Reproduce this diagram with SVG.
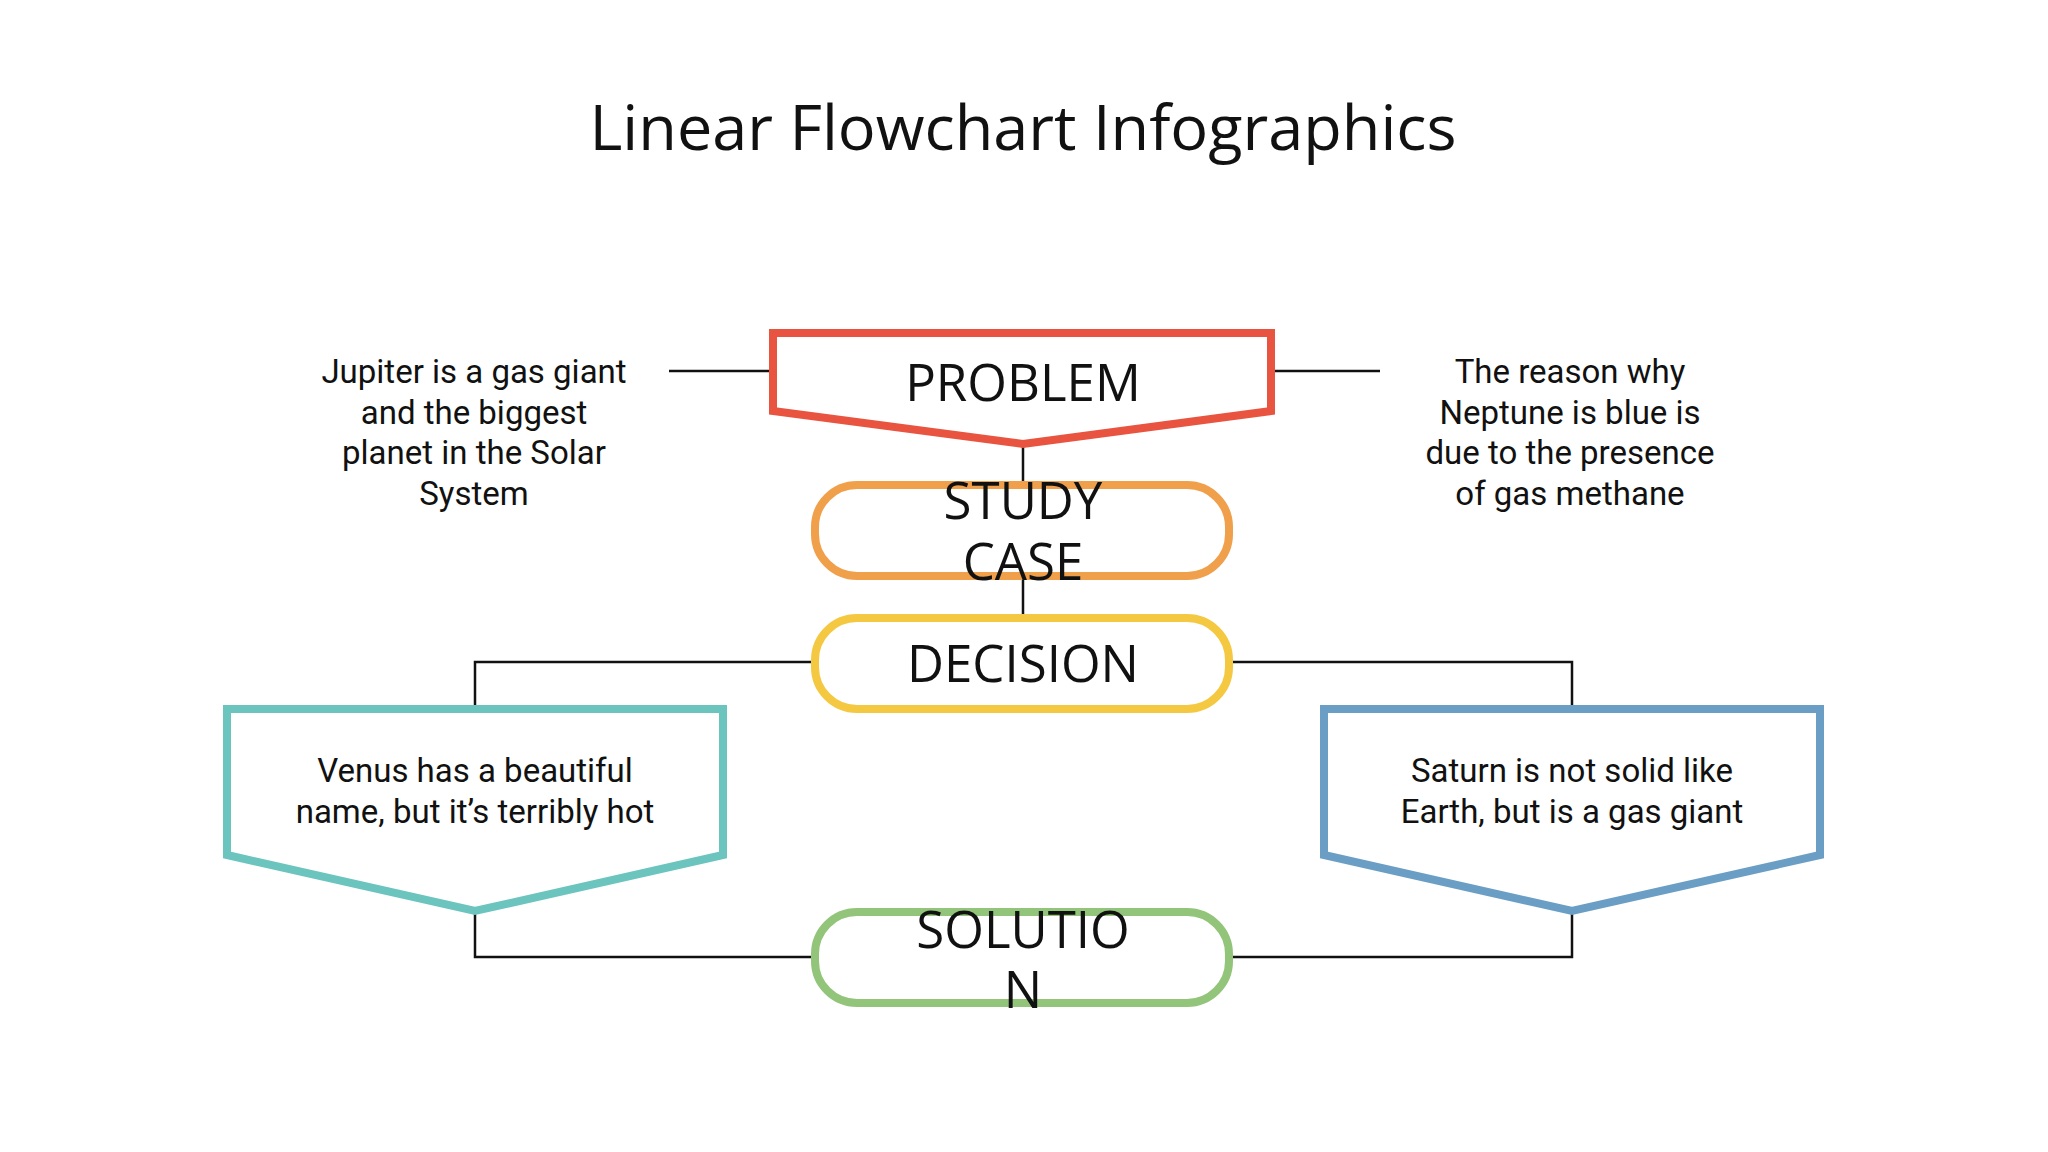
<svg xmlns="http://www.w3.org/2000/svg" width="2048" height="1152" viewBox="0 0 2048 1152">
<style>
.t{font-family:"Open Sans","Noto Sans",sans-serif;fill:#111;text-anchor:middle}
.lab{font-size:51px}
.d{font-family:Roboto,"Liberation Sans",sans-serif;font-size:33px;fill:#111;text-anchor:middle}
.c{stroke:#111;stroke-width:2.5;fill:none}
.s{fill:#fff;stroke-width:8;stroke-linejoin:miter}
</style>
<rect width="2048" height="1152" fill="#fff"/>
<text class="t" x="1023" y="150" font-size="63">Linear Flowchart Infographics</text>
<g id="connectors">
<path class="c" d="M669 371H773M1271 371H1380M1023 444V485M1023 576V616M815 662H475V709M1229 662H1572V709M475 911V957H815M1572 911V957H1229"/>
</g>
<g id="problem">
<path class="s" stroke="#e8543f" d="M773 333H1271V411L1023 444L773 411Z"/>
<text class="t lab" x="1023" y="401">PROBLEM</text>
</g>
<g id="study">
<rect class="s" stroke="#f0a04b" x="815" y="485" width="414" height="91" rx="42"/>
<text class="t lab" x="1023" y="519">STUDY</text>
<text class="t lab" x="1023" y="580">CASE</text>
</g>
<g id="decision">
<rect class="s" stroke="#f5c842" x="815" y="618" width="414" height="91" rx="42"/>
<text class="t lab" x="1023" y="682">DECISION</text>
</g>
<g id="solution">
<rect class="s" stroke="#92c47a" x="815" y="912" width="414" height="91" rx="42"/>
<text class="t lab" x="1023" y="948">SOLUTIO</text>
<text class="t lab" x="1023" y="1008">N</text>
</g>
<g id="left-note">
<text class="d" x="474" y="383">Jupiter is a gas giant</text>
<text class="d" x="474" y="424">and the biggest</text>
<text class="d" x="474" y="464">planet in the Solar</text>
<text class="d" x="474" y="505">System</text>
</g>
<g id="right-note">
<text class="d" x="1570" y="383">The reason why</text>
<text class="d" x="1570" y="424">Neptune is blue is</text>
<text class="d" x="1570" y="464">due to the presence</text>
<text class="d" x="1570" y="505">of gas methane</text>
</g>
<g id="venus">
<path class="s" stroke="#6cc4be" d="M227 709H723V855L475 911L227 855Z"/>
<text class="d" x="475" y="782">Venus has a beautiful</text>
<text class="d" x="475" y="823">name, but it’s terribly hot</text>
</g>
<g id="saturn">
<path class="s" stroke="#6a9ec4" d="M1324 709H1820V855L1572 911L1324 855Z"/>
<text class="d" x="1572" y="782">Saturn is not solid like</text>
<text class="d" x="1572" y="823">Earth, but is a gas giant</text>
</g>
</svg>
